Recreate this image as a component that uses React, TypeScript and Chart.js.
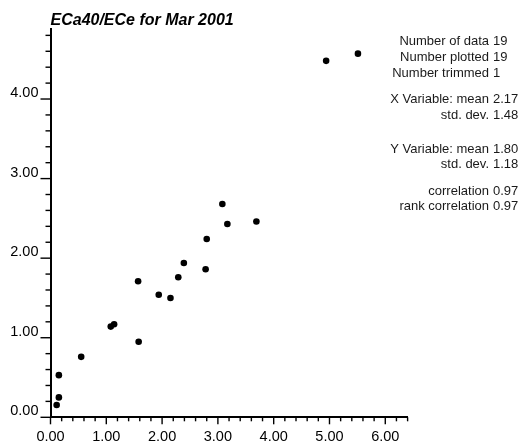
import React, { useEffect, useRef } from "react";
import { Chart, registerables } from "chart.js";

Chart.register(...registerables);

const titleText = "ECa40/ECe for Mar 2001";

const xValues = [0.11, 0.15, 0.15, 0.55, 1.08, 1.14, 1.58, 1.57, 1.94, 2.15, 2.29, 2.39, 2.78, 2.8, 3.08, 3.17, 3.69, 4.94, 5.51];
const yValues = [0.155, 0.25, 0.53, 0.76, 1.14, 1.17, 0.95, 1.71, 1.54, 1.5, 1.76, 1.94, 1.86, 2.24, 2.68, 2.43, 2.46, 4.48, 4.57];

const xMajorTicks = [0, 1, 2, 3, 4, 5, 6];
const yMajorTicks = [0, 1, 2, 3, 4];
const xMax = 6.4;
const yMax = 4.88;
const minorStep = 0.2;

const statLabels = [
  "Number of data",
  "Number plotted",
  "Number trimmed",
  "X Variable: mean",
  "std. dev.",
  "Y Variable: mean",
  "std. dev.",
  "correlation",
  "rank correlation",
];
const statValues = ["19", "19", "1", "2.17", "1.48", "1.80", "1.18", "0.97", "0.97"];

const FONT = "'Liberation Sans', Arial, Helvetica, sans-serif";

export default function App() {
  const canvasRef = useRef<HTMLCanvasElement | null>(null);

  useEffect(() => {
    const canvas = canvasRef.current;
    if (!canvas) return;

    const tickPlugin = {
      id: "minorTicks",
      afterDraw(chart: any) {
        const ctx = chart.ctx;
        const xs = chart.scales.x;
        const ys = chart.scales.y;
        const area = chart.chartArea;
        ctx.save();
        ctx.strokeStyle = "#000";
        ctx.lineWidth = 1.4;
        const nx = Math.round(xMax / minorStep);
        for (let i = 0; i <= nx; i++) {
          const v = i * minorStep;
          const major = xMajorTicks.some((t) => Math.abs(t - v) < 1e-6);
          const px = xs.getPixelForValue(v);
          ctx.beginPath();
          ctx.moveTo(px, area.bottom);
          ctx.lineTo(px, area.bottom + (major ? 7 : 4));
          ctx.stroke();
        }
        const ny = Math.floor(yMax / minorStep + 1e-6);
        for (let i = 0; i <= ny; i++) {
          const v = i * minorStep;
          const major = yMajorTicks.some((t) => Math.abs(t - v) < 1e-6);
          const py = ys.getPixelForValue(v);
          ctx.beginPath();
          ctx.moveTo(area.left - (major ? 10 : 5), py);
          ctx.lineTo(area.left, py);
          ctx.stroke();
        }
        ctx.restore();

        // statistics block
        const baselines = [45, 61, 76.5, 103.3, 119, 153.3, 168.3, 195, 210];
        ctx.save();
        ctx.font = `13px ${FONT}`;
        ctx.fillStyle = "#1a1a1a";
        ctx.textBaseline = "alphabetic";
        statLabels.forEach((lab, i) => {
          ctx.textAlign = "right";
          ctx.fillText(lab, 489, baselines[i]);
          ctx.textAlign = "left";
          ctx.fillText(statValues[i], 493, baselines[i]);
        });
        ctx.restore();
      },
    };

    const chart = new Chart(canvas, {
      type: "scatter",
      data: {
        datasets: [
          {
            data: xValues.map((x, i) => ({ x, y: yValues[i] })),
            backgroundColor: "#000",
            borderColor: "#000",
            borderWidth: 0,
            pointRadius: 3.3,
            showLine: false,
          },
        ],
      },
      options: {
        animation: false,
        responsive: false,
        devicePixelRatio: 1,
        layout: { padding: { top: 0, right: 116.4, left: 0, bottom: 0 } },
        plugins: {
          legend: { display: false },
          tooltip: { enabled: false },
          title: {
            display: true,
            text: titleText,
            align: "start",
            fullSize: false,
            color: "#000",
            font: { family: FONT, size: 16, weight: "bold", style: "italic", lineHeight: 1 },
            padding: { top: 12.5, bottom: 0.5 },
          },
        },
        scales: {
          x: {
            type: "linear",
            min: 0,
            max: xMax,
            grid: { display: false, drawTicks: false },
            border: { display: true, color: "#000", width: 2 },
            afterBuildTicks: (scale: any) => {
              scale.ticks = xMajorTicks.map((v) => ({ value: v }));
            },
            afterFit: (scale: any) => {
              scale.height = 30.7;
            },
            ticks: {
              autoSkip: false,
              maxRotation: 0,
              padding: 11,
              color: "#000",
              font: { family: FONT, size: 14.5 },
              callback: (v: any) => Number(v).toFixed(2),
            },
          },
          y: {
            type: "linear",
            min: 0,
            max: yMax,
            grid: { display: false, drawTicks: false },
            border: { display: true, color: "#000", width: 2 },
            afterBuildTicks: (scale: any) => {
              scale.ticks = yMajorTicks.map((v) => ({ value: v }));
            },
            afterFit: (scale: any) => {
              scale.width = 50.5;
            },
            ticks: {
              autoSkip: false,
              padding: 12,
              labelOffset: -6,
              color: "#000",
              font: { family: FONT, size: 14.5 },
              callback: (v: any) => Number(v).toFixed(2),
            },
          },
        },
      },
      plugins: [tickPlugin],
    } as any);

    return () => chart.destroy();
  }, []);

  return (
    <div style={{ position: "absolute", left: 0, top: 0, width: 524, height: 448, background: "#fff" }}>
      <canvas ref={canvasRef} width={524} height={448} />
    </div>
  );
}
